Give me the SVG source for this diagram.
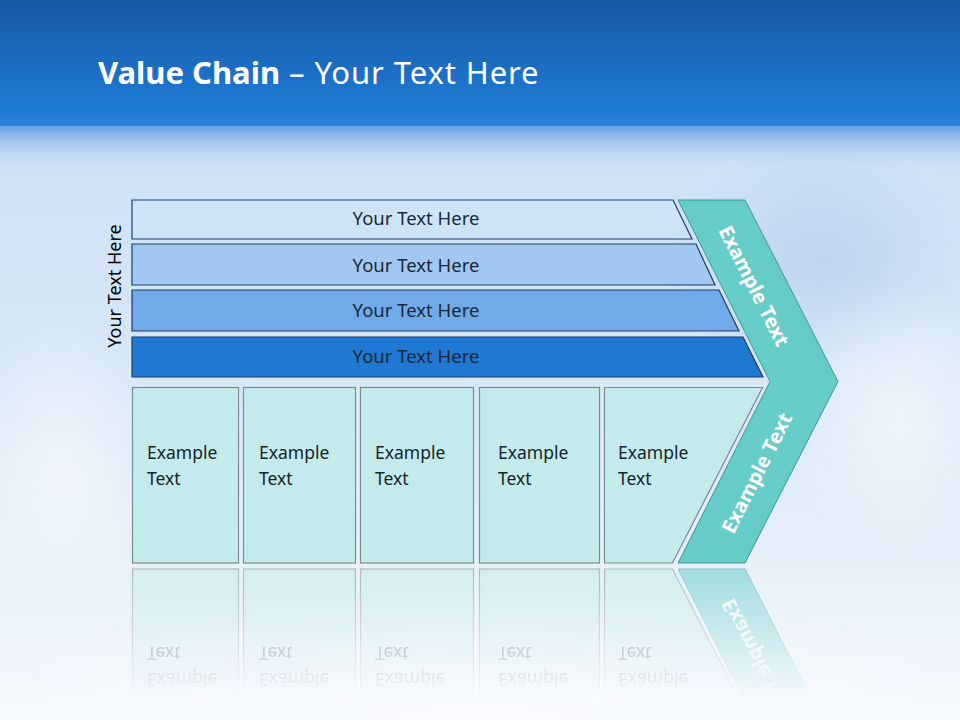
<svg xmlns="http://www.w3.org/2000/svg" xmlns:xlink="http://www.w3.org/1999/xlink" width="960" height="720" viewBox="0 0 960 720">
<defs>
<linearGradient id="bg" x1="0" y1="0" x2="0" y2="1">
<stop offset="0" stop-color="#b9d3f0"/>
<stop offset="0.25" stop-color="#cfe2f6"/>
<stop offset="0.6" stop-color="#dbe9f7"/>
<stop offset="1" stop-color="#f6f9fd"/>
</linearGradient>
<linearGradient id="band" x1="0" y1="0" x2="0" y2="1">
<stop offset="0" stop-color="#175aa2"/>
<stop offset="0.5" stop-color="#1b6cc0"/>
<stop offset="0.9" stop-color="#1f7dd6"/>
<stop offset="1" stop-color="#2a83d8"/>
</linearGradient>
<linearGradient id="bandEdge" x1="0" y1="0" x2="0" y2="1">
<stop offset="0" stop-color="#5a98e2" stop-opacity="0.9"/>
<stop offset="1" stop-color="#b9d3f0" stop-opacity="0"/>
</linearGradient>
<radialGradient id="blotch" cx="0.5" cy="0.5" r="0.5">
<stop offset="0" stop-color="#ffffff" stop-opacity="0.55"/>
<stop offset="1" stop-color="#ffffff" stop-opacity="0"/>
</radialGradient>
<radialGradient id="blotch2" cx="0.5" cy="0.5" r="0.5">
<stop offset="0" stop-color="#a9c3ea" stop-opacity="0.5"/>
<stop offset="1" stop-color="#a9c3ea" stop-opacity="0"/>
</radialGradient>
<linearGradient id="fade" gradientUnits="userSpaceOnUse" x1="0" y1="566" x2="0" y2="700">
<stop offset="0" stop-color="#fff" stop-opacity="0.55"/>
<stop offset="1" stop-color="#fff" stop-opacity="0"/>
</linearGradient>
<mask id="reflMask" maskUnits="userSpaceOnUse" x="0" y="560" width="960" height="160">
<rect x="0" y="566" width="960" height="140" fill="url(#fade)"/>
</mask>
<style>
.bar{stroke:#1d3d6e;stroke-width:1.2}
.bt{font-family:"Noto Sans","Open Sans",sans-serif;font-size:18.5px;fill:#1a2838;text-anchor:middle}
.box{fill:#c4ebeb;stroke:#7d8c90;stroke-width:1.2}
.et{font-family:"Noto Sans","Open Sans",sans-serif;font-size:17.5px;fill:#15232b}
.chev{fill:#65ccc8;stroke:#3f9794;stroke-width:1}
.ct{font-family:"Noto Sans","Open Sans",sans-serif;font-size:20px;font-weight:bold;fill:#ffffff;text-anchor:middle}
</style>
</defs>

<!-- background -->
<rect x="0" y="0" width="960" height="720" fill="url(#bg)"/>
<ellipse cx="820" cy="260" rx="160" ry="120" fill="url(#blotch2)"/>
<ellipse cx="60" cy="470" rx="110" ry="150" fill="url(#blotch)"/>
<ellipse cx="900" cy="420" rx="120" ry="140" fill="url(#blotch)"/>
<ellipse cx="480" cy="680" rx="500" ry="90" fill="url(#blotch)"/>
<rect x="0" y="0" width="960" height="126" fill="url(#band)"/>
<rect x="0" y="126" width="960" height="40" fill="url(#bandEdge)"/>

<!-- title -->
<text x="98" y="84" font-family="'Noto Sans','Open Sans',sans-serif" font-size="31" fill="#ffffff"><tspan font-weight="bold">Value Chain</tspan><tspan letter-spacing="0.9"> – Your Text Here</tspan></text>

<!-- side label -->
<text x="121" y="286" transform="rotate(-90 121 286)" font-family="'Noto Sans','Open Sans',sans-serif" font-size="18" fill="#000000" text-anchor="middle">Your Text Here</text>

<g id="connectors"/>

<!-- bars -->
<g id="bar1">
<polygon class="bar" points="132,200 673,200 692,239 132,239" fill="#cfe3f7"/>
<text class="bt" x="416" y="225">Your Text Here</text>
</g>
<g id="bar2">
<polygon class="bar" points="132,244 696,244 715,285 132,285" fill="#a0c8f0"/>
<text class="bt" x="416" y="272">Your Text Here</text>
</g>
<g id="bar3">
<polygon class="bar" points="132,290 719,290 739,331 132,331" fill="#70aae8"/>
<text class="bt" x="416" y="317">Your Text Here</text>
</g>
<g id="bar4">
<polygon class="bar" points="132,337 743,337 763,377 132,377" fill="#1f78d1"/>
<text class="bt" x="416" y="363">Your Text Here</text>
</g>

<!-- boxes + chevron (reflected) -->
<g id="lower">
<g id="box1">
<rect class="box" x="132.5" y="387.5" width="106" height="175.5"/>
<text class="et" x="147" y="459">Example</text>
<text class="et" x="147" y="485">Text</text>
</g>
<g id="box2">
<rect class="box" x="243.5" y="387.5" width="112" height="175.5"/>
<text class="et" x="259" y="459">Example</text>
<text class="et" x="259" y="485">Text</text>
</g>
<g id="box3">
<rect class="box" x="360.5" y="387.5" width="113" height="175.5"/>
<text class="et" x="375" y="459">Example</text>
<text class="et" x="375" y="485">Text</text>
</g>
<g id="box4">
<rect class="box" x="479.5" y="387.5" width="120" height="175.5"/>
<text class="et" x="498" y="459">Example</text>
<text class="et" x="498" y="485">Text</text>
</g>
<g id="box5">
<polygon class="box" points="604.5,387.5 762.5,387.5 672.5,563 604.5,563"/>
<text class="et" x="618" y="459">Example</text>
<text class="et" x="618" y="485">Text</text>
</g>
<g id="chevron">
<polygon class="chev" points="678,200 745,200 838,381.5 745,563 678,563 770,381.5"/>
<text class="ct" x="754" y="286" dy="7" transform="rotate(63.2 754 286)">Example Text</text>
<text class="ct" x="757" y="473" dy="7" transform="rotate(-63.2 757 473)">Example Text</text>
</g>
</g>

<!-- reflection -->
<g mask="url(#reflMask)">
<use xlink:href="#lower" transform="translate(0 1132) scale(1 -1)"/>
</g>
</svg>
